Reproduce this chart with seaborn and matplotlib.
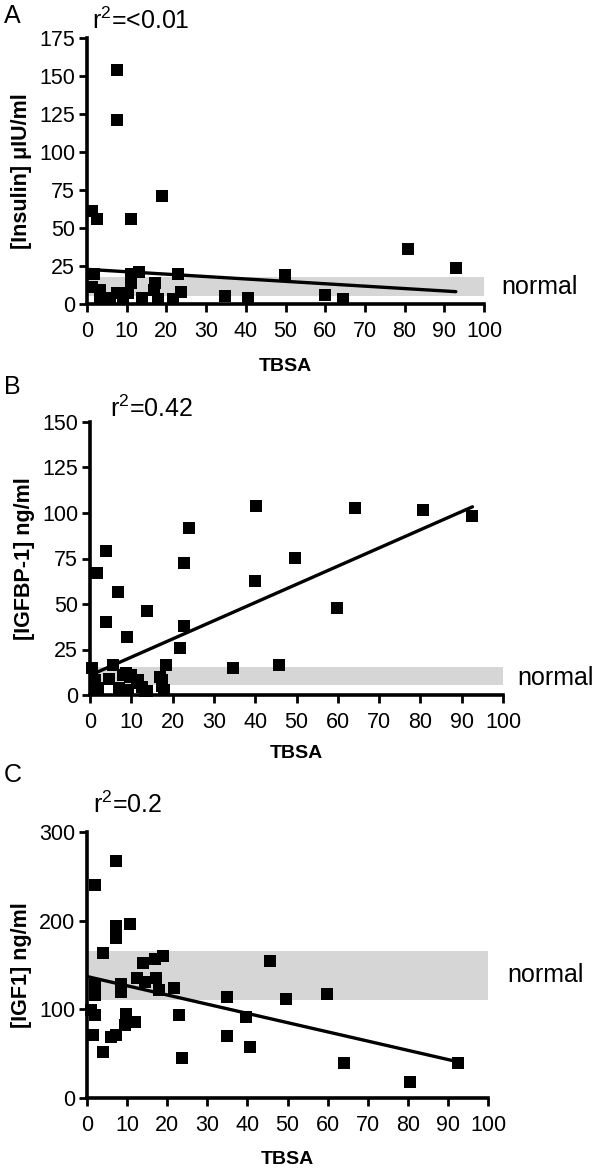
import numpy as np
import pandas as pd
import matplotlib
matplotlib.use("Agg")
import matplotlib.pyplot as plt
import seaborn as sns

# ---------------- data ----------------
tbsa_a = [1.2, 2.4, 7.5, 7.5, 11, 18.8, 1.8, 11.2, 13, 11.2, 17.1, 17, 1.2, 3.2, 3.2,
          7.5, 9, 5.8, 10.4, 18, 21.7, 13.8, 23, 23.8, 34.8, 40.6, 49.9, 60, 64.4, 80.9, 92.9]
insulin = [61, 56, 154, 121, 56, 71, 20, 20, 21, 14, 14, 9, 11, 9, 4,
           7, 4, 4, 7, 3, 3, 4, 20, 8, 5, 4, 19, 6, 3, 36, 24]

tbsa_b = [1.6, 3.9, 3.9, 6.9, 9, 13.7, 22.8, 24, 22.8, 21.8, 18.4, 40.3, 40, 49.6, 34.7,
          45.8, 64.2, 80.7, 92.6, 59.7, 0.6, 1.2, 1.6, 2, 5.6, 7, 8, 8.6, 9.7, 10, 9.3,
          11.3, 11.6, 12.5, 13.3, 13.9, 17, 17.4, 17.4, 17.8, 4.5]
igfbp1 = [66.8, 79, 40, 56.8, 31.7, 46, 72.5, 92, 38, 26, 16.5, 104, 62.6, 75.4, 14.6,
          16.5, 102.6, 101.6, 98.5, 48, 15, 8, 3, 4, 16.5, 4, 11, 12, 10, 11, 3,
          6.4, 8, 4.5, 2, 2, 10, 8, 5, 3, 9]

tbsa_c = [7.3, 2, 7.3, 7.3, 10.8, 4, 2, 2, 1, 2, 1.5, 4, 6, 7.3, 9.5, 9.8, 12, 8.4, 8.4,
          12.4, 14, 14.5, 17, 19, 17.3, 18, 21.8, 23, 23.6, 34.8, 34.8, 39.7, 40.6, 45.6,
          49.6, 59.8, 64.2, 80.5, 92.6]
igf1 = [267, 240, 194, 180, 196, 163, 127, 116, 99, 94, 71, 52, 69, 71, 82, 95, 86, 129, 120,
        135, 152, 131, 157, 160, 135, 122, 124, 94, 45, 114, 70, 91, 58, 154,
        112, 117, 40, 18, 40]

panel_letters = ["A", "B", "C"]
r2_labels = ["r$^{2}$=<0.01", "r$^{2}$=0.42", "r$^{2}$=0.2"]
y_labels = ["[Insulin] \u03bcIU/ml", "[IGFBP-1] ng/ml", "[IGF1] ng/ml"]
x_label = "TBSA"
band_label = "normal"

# normal ranges
band_lo = [5, 5.5, 110]
band_hi = [18, 15.5, 166]
# regression lines (intercept, slope)
fit_intercept = [22.8, 10.8, 137]
fit_slope = [-0.158, 1.0, -1.04]

y_max = [175, 150, 300]
y_step = [25, 25, 100]
x_ticks = list(range(0, 101, 10))

# ---------------- style ----------------
sns.set_theme(style="ticks")
plt.rcParams['font.family'] = ['Liberation Sans', 'DejaVu Sans']
plt.rcParams['mathtext.fontset'] = 'custom'
plt.rcParams['mathtext.rm'] = 'Liberation Sans'
plt.rcParams['mathtext.default'] = 'regular'

W, H = 600, 1175
fig = plt.figure(figsize=(W / 100, H / 100), dpi=100)
fig.patch.set_facecolor('white')

def px_rect(left, right, top, bottom):
    return [left / W, 1 - bottom / H, (right - left) / W, (bottom - top) / H]

rects = [px_rect(87, 484, 38, 304), px_rect(90, 503, 422, 695), px_rect(87, 488, 832, 1098)]
datasets = [(tbsa_a, insulin), (tbsa_b, igfbp1), (tbsa_c, igf1)]

letter_pos = [(4, 4), (4, 375), (4, 763)]
r2_pos = [(92, 29), (110, 417), (93, 813)]
normal_pos = [(501, 294), (517, 685), (507, 982)]
xlabel_pos = [366, 753, 1160]

for i in range(3):
    ax = fig.add_axes(rects[i])
    xs, ys = datasets[i]
    df = pd.DataFrame({"TBSA": xs, "val": ys})

    # normal band
    ax.fill_between([0, 100], band_lo[i], band_hi[i], color='#d6d6d6', linewidth=0, zorder=1)

    # regression line
    lx = np.array([0, max(xs)])
    ly = fit_intercept[i] + fit_slope[i] * lx
    sns.lineplot(x=lx, y=ly, ax=ax, color='black', linewidth=2.4, zorder=3)

    # points
    sns.scatterplot(data=df, x="TBSA", y="val", ax=ax, marker='s', s=78, color='black',
                    linewidth=0, zorder=4, clip_on=False)

    ax.set_xlim(0, 100)
    ax.set_ylim(0, y_max[i])
    ax.set_xticks(x_ticks)
    ax.set_yticks(list(range(0, y_max[i] + 1, y_step[i])))
    ax.set_xlabel("")
    ax.set_ylabel(y_labels[i], fontsize=15.5, fontweight='bold', labelpad=5, color='black')
    for s in ['top', 'right']:
        ax.spines[s].set_visible(False)
    for s in ['left', 'bottom']:
        ax.spines[s].set_linewidth(2.6)
        ax.spines[s].set_color('black')
    ax.tick_params(axis='both', which='major', length=5.5, width=2.0, color='black',
                   labelsize=15.5, labelcolor='black', direction='out', pad=3)
    ax.tick_params(axis='x', pad=7)
    ax.set_facecolor('white')

    fig.text(letter_pos[i][0] / W, 1 - letter_pos[i][1] / H, panel_letters[i],
             fontsize=18, va='top', ha='left', color='black')
    fig.text(r2_pos[i][0] / W, 1 - r2_pos[i][1] / H, r2_labels[i],
             fontsize=18, va='baseline', ha='left', color='black')
    fig.text(normal_pos[i][0] / W, 1 - normal_pos[i][1] / H, band_label,
             fontsize=18, va='baseline', ha='left', color='black')
    fig.text(((rects[i][0] + rects[i][2] / 2)), 1 - xlabel_pos[i] / H, x_label,
             fontsize=14, fontweight='bold', va='center', ha='center', color='black')

fig.savefig("out.png", dpi=100, facecolor='white')
